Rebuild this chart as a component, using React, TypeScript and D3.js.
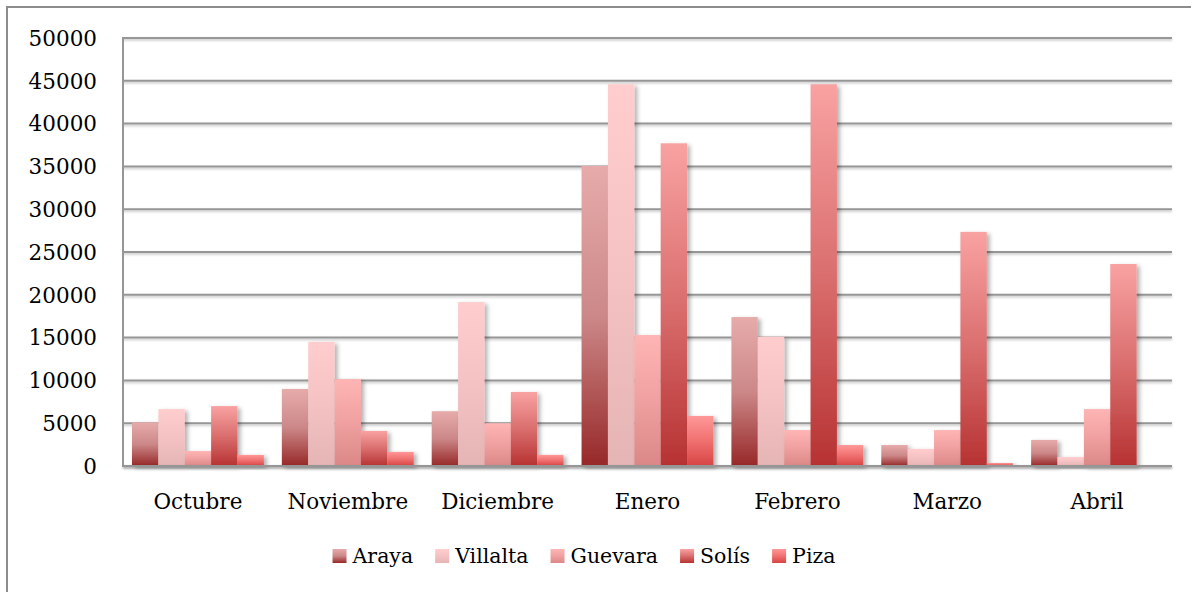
import React, { useEffect, useRef } from 'react'
import * as d3 from 'd3'

const months = ['Octubre', 'Noviembre', 'Diciembre', 'Enero', 'Febrero', 'Marzo', 'Abril']
const seriesNames = ['Araya', 'Villalta', 'Guevara', 'Solís', 'Piza']

const araya = [5100, 9000, 6400, 35050, 17400, 2450, 3050]
const villalta = [6650, 14500, 19150, 44600, 15100, 2000, 1050]
const guevara = [1750, 10150, 5000, 15300, 4200, 4200, 6650]
const solis = [7000, 4100, 8650, 37700, 44600, 27350, 23600]
const piza = [1300, 1650, 1300, 5850, 2450, 350, 0]

const yTicks = [0, 5000, 10000, 15000, 20000, 25000, 30000, 35000, 40000, 45000, 50000]

// gradient stops per series, top -> bottom
const gradients = [
  ['#E7ABAB', '#CC8888', '#972828'],
  ['#FFCDCD', '#F4C2C2', '#E5B4B4'],
  ['#FFB5B5', '#F0A0A0', '#DB8787'],
  ['#F9A2A2', '#DA6E6E', '#B73232'],
  ['#FF9898', '#F07070', '#D74444'],
]

const W = 1191
const H = 592
const FONT = '"DejaVu Serif", serif'

export default function App() {
  const ref = useRef<SVGSVGElement>(null)

  useEffect(() => {
    document.body.style.margin = '0'
    const svg = d3.select(ref.current)
    svg.selectAll('*').remove()

    const data = [araya, villalta, guevara, solis, piza]
    const left = 123
    const right = 1172
    const top = 38
    const bottom = 466

    const defs = svg.append('defs')
    gradients.forEach((stops, i) => {
      const g = defs
        .append('linearGradient')
        .attr('id', 'grad' + i)
        .attr('x1', 0)
        .attr('y1', 0)
        .attr('x2', 0)
        .attr('y2', 1)
      stops.forEach((c, k) => {
        g.append('stop')
          .attr('offset', k / (stops.length - 1))
          .attr('stop-color', c)
      })
    })
    defs
      .append('filter')
      .attr('id', 'shadow')
      .attr('x', '-20%')
      .attr('y', '-20%')
      .attr('width', '150%')
      .attr('height', '150%')
      .append('feDropShadow')
      .attr('dx', 3)
      .attr('dy', 2)
      .attr('stdDeviation', 2.2)
      .attr('flood-color', '#000')
      .attr('flood-opacity', 0.3)
    defs
      .append('filter')
      .attr('id', 'lineShadow')
      .attr('filterUnits', 'userSpaceOnUse')
      .attr('x', 0)
      .attr('y', 0)
      .attr('width', W)
      .attr('height', H)
      .append('feDropShadow')
      .attr('dx', 0)
      .attr('dy', 1.5)
      .attr('stdDeviation', 0.8)
      .attr('flood-color', '#000')
      .attr('flood-opacity', 0.25)

    svg
      .append('rect')
      .attr('width', W)
      .attr('height', H)
      .attr('fill', '#fff')

    // outer frame
    svg
      .append('rect')
      .attr('x', 7)
      .attr('y', 7)
      .attr('width', W + 20)
      .attr('height', H + 20)
      .attr('fill', 'none')
      .attr('stroke', '#8c8c8c')
      .attr('stroke-width', 2)

    const y = d3.scaleLinear().domain([0, 50000]).range([bottom, top])
    const x0 = d3.scaleBand().domain(months).range([left, right]).paddingInner(0.12).paddingOuter(0.06)
    const x1 = d3.scaleBand().domain(seriesNames).range([0, x0.bandwidth()]).padding(0)

    // gridlines
    svg
      .append('g')
      .attr('filter', 'url(#lineShadow)')
      .selectAll('line')
      .data(yTicks)
      .enter()
      .append('line')
      .attr('x1', left)
      .attr('x2', right)
      .attr('y1', d => y(d))
      .attr('y2', d => y(d))
      .attr('stroke', '#969696')
      .attr('stroke-width', 2)

    svg
      .append('line')
      .attr('x1', left)
      .attr('x2', left)
      .attr('y1', top - 1)
      .attr('y2', bottom + 1)
      .attr('stroke', '#969696')
      .attr('stroke-width', 2)

    // y labels
    svg
      .append('g')
      .selectAll('text')
      .data(yTicks)
      .enter()
      .append('text')
      .attr('x', 97)
      .attr('y', d => y(d))
      .attr('dy', '0.36em')
      .attr('text-anchor', 'end')
      .attr('font-family', FONT)
      .attr('font-size', 21.5)
      .attr('fill', '#000')
      .text(d => String(d))

    // bars
    const groups = svg
      .append('g')
      .selectAll('g')
      .data(months)
      .enter()
      .append('g')
      .attr('transform', d => `translate(${x0(d)},0)`)

    groups
      .selectAll('rect')
      .data((m, mi) => seriesNames.map((s, si) => ({ s, si, v: data[si][mi] })))
      .enter()
      .append('rect')
      .filter(d => d.v > 0)
      .attr('x', d => x1(d.s) as number)
      .attr('y', d => y(d.v))
      .attr('width', x1.bandwidth())
      .attr('height', d => bottom - y(d.v))
      .attr('fill', d => `url(#grad${d.si})`)
      .attr('filter', 'url(#shadow)')

    // redraw baseline above bars
    svg
      .append('line')
      .attr('x1', left)
      .attr('x2', right)
      .attr('y1', bottom)
      .attr('y2', bottom)
      .attr('stroke', '#969696')
      .attr('stroke-width', 2)
      .attr('filter', 'url(#lineShadow)')

    // category labels
    svg
      .append('g')
      .selectAll('text')
      .data(months)
      .enter()
      .append('text')
      .attr('x', d => (x0(d) as number) + x0.bandwidth() / 2)
      .attr('y', 501)
      .attr('dy', '0.36em')
      .attr('text-anchor', 'middle')
      .attr('font-family', FONT)
      .attr('font-size', 21.5)
      .attr('fill', '#000')
      .text(d => d)

    // legend
    const legend = svg.append('g')
    const sq = 14
    const gapText = 6
    const gapItem = 22
    let cx = 0
    seriesNames.forEach((name, i) => {
      const item = legend.append('g').attr('transform', `translate(${cx},0)`)
      item
        .append('rect')
        .attr('x', 0)
        .attr('y', -sq / 2)
        .attr('width', sq)
        .attr('height', sq)
        .attr('fill', `url(#grad${i})`)
      const t = item
        .append('text')
        .attr('x', sq + gapText)
        .attr('y', 0)
        .attr('dy', '0.36em')
        .attr('font-family', FONT)
        .attr('font-size', 20.5)
        .attr('fill', '#000')
        .text(name)
      const w = (t.node() as SVGTextElement).getComputedTextLength()
      cx += sq + gapText + w + gapItem
    })
    const total = cx - gapItem
    legend.attr('transform', `translate(${584 - total / 2},556)`)
  }, [])

  return <svg ref={ref} width={W} height={H} style={{ display: 'block' }} />
}
